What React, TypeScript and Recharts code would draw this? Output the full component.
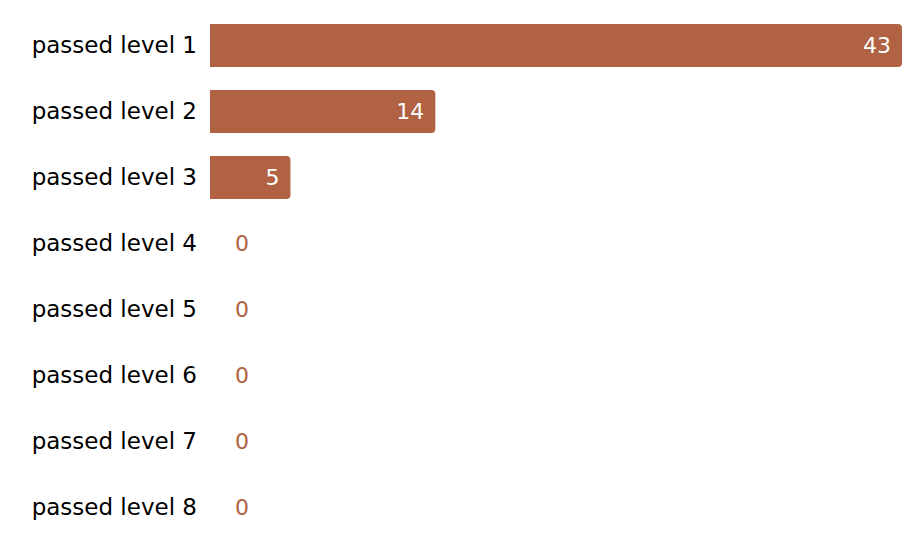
import { BarChart, Bar, XAxis, YAxis } from "recharts";

const levels = [
  "passed level 1",
  "passed level 2",
  "passed level 3",
  "passed level 4",
  "passed level 5",
  "passed level 6",
  "passed level 7",
  "passed level 8",
];
const counts = [43, 14, 5, 0, 0, 0, 0, 0];

const BAR_COLOR = "#B06242";
const FONT = "'DejaVu Sans', Verdana, sans-serif";

const data = levels.map((level, i) => ({ level, count: counts[i] }));

interface LabelProps {
  x?: number | string;
  y?: number | string;
  width?: number | string;
  height?: number | string;
  value?: number | string;
}

// white count inside the bar end, or bar-coloured just right of the axis when 0
function renderCount(props: LabelProps) {
  const x = Number(props.x ?? 0);
  const y = Number(props.y ?? 0);
  const width = Number(props.width ?? 0);
  const height = Number(props.height ?? 0);
  const value = Number(props.value ?? 0);
  const inside = value > 0;
  return (
    <text
      x={inside ? x + width - 11 : x + 25}
      y={y + height / 2}
      dy="0.36em"
      textAnchor={inside ? "end" : "start"}
      fill={inside ? "#FFFFFF" : BAR_COLOR}
      fontSize={22}
      fontFamily={FONT}
    >
      {value}
    </text>
  );
}

export default function App() {
  return (
    <div style={{ width: 916, height: 532 }}>
      <BarChart
        width={916}
        height={532}
        data={data}
        layout="vertical"
        margin={{ top: 4, right: 22, bottom: 0, left: 0 }}
        barSize={43}
      >
        <XAxis type="number" domain={[0, 43]} hide />
        <YAxis
          type="category"
          dataKey="level"
          width={202}
          tickLine={false}
          axisLine={false}
          tickSize={0}
          tickMargin={13}
          tick={{ fill: "#000000", fontSize: 23, fontFamily: FONT }}
        />
        <Bar
          dataKey="count"
          fill={BAR_COLOR}
          radius={[0, 4, 4, 0]}
          minPointSize={0.01}
          isAnimationActive={false}
          label={renderCount}
        />
      </BarChart>
    </div>
  );
}
